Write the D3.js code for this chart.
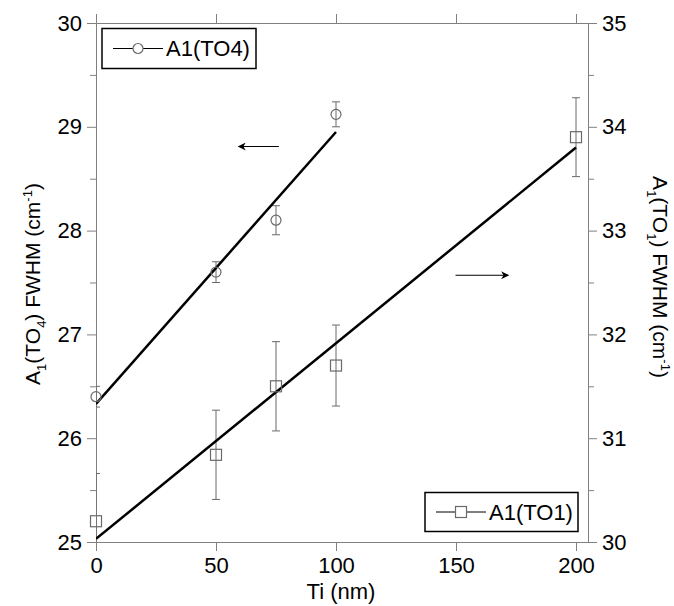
<!DOCTYPE html>
<html>
<head>
<meta charset="utf-8">
<script src="https://cdn.jsdelivr.net/npm/d3@7"></script>
<style>
  body { margin: 0; background: #fff; }
  svg text { font-family: Arial, "Liberation Sans", sans-serif; }
</style>
</head>
<body>
<div id="chart"></div>
<script>
// data
const tiTO4 = [0, 50, 75, 100];
const fwhmTO4 = [26.40, 27.60, 28.10, 29.12];
const errTO4 = [0.10, 0.10, 0.14, 0.12];
const fitTO4 = [[0, 26.33], [100, 28.95]];

const tiTO1 = [0, 50, 75, 100, 200];
const fwhmTO1 = [30.20, 30.84, 31.50, 31.70, 33.90];
const errTO1 = [0.46, 0.43, 0.43, 0.39, 0.38];
const fitTO1 = [[0, 30.03], [200, 33.80]];

const xTicks = [0, 50, 100, 150, 200];
const leftTicks = [25, 26, 27, 28, 29, 30];
const rightTicks = [30, 31, 32, 33, 34, 35];

const W = 674, H = 606;
const m = { left: 96, right: 86, top: 23, bottom: 64 };
const FS = '22px';

const svg = d3.select('#chart')
    .append('svg')
    .attr('width', W)
    .attr('height', H);

const x = d3.scaleLinear().domain([0, 205]).range([m.left, W - m.right]);
const yL = d3.scaleLinear().domain([25, 30]).range([H - m.bottom, m.top]);
const yR = d3.scaleLinear().domain([30, 35]).range([H - m.bottom, m.top]);

const AXIS = '#808080';
const MARK = '#6a6a6a';
const fmt = d3.format('d');

// clip for data
svg.append('clipPath').attr('id', 'clip')
    .append('rect')
    .attr('x', m.left).attr('y', m.top)
    .attr('width', W - m.left - m.right)
    .attr('height', H - m.top - m.bottom);

function styleAxis(g) {
    g.attr('font-family', null).attr('font-size', null);
    g.select('.domain').attr('stroke', AXIS);
    g.selectAll('.tick line').attr('stroke', AXIS);
    g.selectAll('.tick text').attr('fill', '#000').style('font-size', FS);
}

// bottom
svg.append('g')
    .attr('transform', `translate(0,${H - m.bottom})`)
    .call(d3.axisBottom(x).tickValues(xTicks).tickFormat(fmt).tickSize(9).tickPadding(6).tickSizeOuter(0))
    .call(styleAxis);
// top
svg.append('g')
    .attr('transform', `translate(0,${m.top})`)
    .call(d3.axisTop(x).tickValues(xTicks).tickSize(9).tickFormat('').tickSizeOuter(0))
    .call(styleAxis);

// minor ticks (half units)
const minorL = [25.5, 26.5, 27.5, 28.5, 29.5];
const minorR = [30.5, 31.5, 32.5, 33.5, 34.5];

svg.append('g')
    .attr('transform', `translate(${m.left},0)`)
    .call(d3.axisLeft(yL).tickValues(minorL).tickSize(6).tickFormat('').tickSizeOuter(0))
    .call(styleAxis);
svg.append('g')
    .attr('transform', `translate(${m.left},0)`)
    .call(d3.axisLeft(yL).tickValues(leftTicks).tickFormat(fmt).tickSize(9).tickPadding(5).tickSizeOuter(0))
    .call(styleAxis);

svg.append('g')
    .attr('transform', `translate(${W - m.right},0)`)
    .call(d3.axisRight(yR).tickValues(minorR).tickSize(6).tickFormat('').tickSizeOuter(0))
    .call(styleAxis);
svg.append('g')
    .attr('transform', `translate(${W - m.right},0)`)
    .call(d3.axisRight(yR).tickValues(rightTicks).tickFormat(fmt).tickSize(9).tickPadding(5).tickSizeOuter(0))
    .call(styleAxis);

const plot = svg.append('g').attr('clip-path', 'url(#clip)');

// error bars
function errorBars(xs, ys, es, yScale) {
    const g = plot.append('g').attr('stroke', MARK).attr('stroke-width', 1);
    xs.forEach((xv, i) => {
        const lo = yScale(ys[i] - es[i]);
        const hi = yScale(ys[i] + es[i]);
        const cx = x(xv);
        g.append('line').attr('x1', cx).attr('x2', cx).attr('y1', lo).attr('y2', hi);
        g.append('line').attr('x1', cx - 4).attr('x2', cx + 4).attr('y1', lo).attr('y2', lo);
        g.append('line').attr('x1', cx - 4).attr('x2', cx + 4).attr('y1', hi).attr('y2', hi);
    });
}
errorBars(tiTO4, fwhmTO4, errTO4, yL);
errorBars(tiTO1, fwhmTO1, errTO1, yR);

// fit lines
plot.append('path')
    .attr('d', d3.line().x(d => x(d[0])).y(d => yL(d[1]))(fitTO4))
    .attr('stroke', '#000').attr('stroke-width', 2.5).attr('fill', 'none');
plot.append('path')
    .attr('d', d3.line().x(d => x(d[0])).y(d => yR(d[1]))(fitTO1))
    .attr('stroke', '#000').attr('stroke-width', 2.5).attr('fill', 'none');

// markers
svg.append('g').selectAll('circle')
    .data(tiTO4.map((t, i) => [t, fwhmTO4[i]]))
    .enter().append('circle')
    .attr('cx', d => x(d[0])).attr('cy', d => yL(d[1]))
    .attr('r', 5).attr('fill', 'none').attr('stroke', MARK).attr('stroke-width', 1.2);

svg.append('g').selectAll('rect')
    .data(tiTO1.map((t, i) => [t, fwhmTO1[i]]))
    .enter().append('rect')
    .attr('x', d => x(d[0]) - 5.5).attr('y', d => yR(d[1]) - 5.5)
    .attr('width', 11).attr('height', 11)
    .attr('fill', 'none').attr('stroke', MARK).attr('stroke-width', 1.2);

// arrows
const defs = svg.append('defs');
defs.append('marker')
    .attr('id', 'head')
    .attr('viewBox', '0 0 10 10')
    .attr('refX', 9).attr('refY', 5)
    .attr('markerWidth', 14).attr('markerHeight', 8)
    .attr('markerUnits', 'userSpaceOnUse')
    .attr('orient', 'auto')
    .append('path')
    .attr('d', 'M0,0 L10,5 L0,10 L3,5 Z')
    .attr('fill', '#000');

svg.append('line')
    .attr('x1', x(76.2)).attr('x2', x(59.4))
    .attr('y1', yL(28.81)).attr('y2', yL(28.81))
    .attr('stroke', '#000').attr('stroke-width', 1.2)
    .attr('marker-end', 'url(#head)');
svg.append('line')
    .attr('x1', x(149.8)).attr('x2', x(171.8))
    .attr('y1', yR(32.57)).attr('y2', yR(32.57))
    .attr('stroke', '#000').attr('stroke-width', 1.2)
    .attr('marker-end', 'url(#head)');

// legends
function legend(x0, y0, w, h, label, kind) {
    const g = svg.append('g').attr('transform', `translate(${x0},${y0})`);
    g.append('rect').attr('width', w).attr('height', h)
        .attr('fill', '#fff').attr('stroke', '#000').attr('stroke-width', 1.5);
    const cy = h / 2;
    g.append('line').attr('x1', 11).attr('x2', 61).attr('y1', cy).attr('y2', cy)
        .attr('stroke', '#000').attr('stroke-width', 1);
    if (kind === 'circle') {
        g.append('circle').attr('cx', 36).attr('cy', cy).attr('r', 5)
            .attr('fill', '#fff').attr('stroke', MARK).attr('stroke-width', 1.2);
    } else {
        g.append('rect').attr('x', 36 - 5.5).attr('y', cy - 5.5).attr('width', 11).attr('height', 11)
            .attr('fill', '#fff').attr('stroke', MARK).attr('stroke-width', 1.2);
    }
    g.append('text').attr('x', 64).attr('y', cy).attr('dy', '0.36em')
        .style('font-size', FS).text(label);
}
legend(102, 28.5, 154, 40, 'A1(TO4)', 'circle');
legend(425, 492.5, 153, 39, 'A1(TO1)', 'square');

// axis titles
svg.append('text')
    .attr('x', 341).attr('y', 599)
    .attr('text-anchor', 'middle')
    .style('font-size', FS)
    .text('Ti (nm)');

function yTitle(tx, ty, rot, sub) {
    const t = svg.append('text')
        .attr('transform', `translate(${tx},${ty}) rotate(${rot})`)
        .attr('text-anchor', 'middle')
        .style('font-size', '21px');
    t.append('tspan').text('A');
    t.append('tspan').attr('dy', 6).style('font-size', '13px').text('1');
    t.append('tspan').attr('dy', -6).text('(TO');
    t.append('tspan').attr('dy', 6).style('font-size', '13px').text(sub);
    t.append('tspan').attr('dy', -6).text(')  FWHM (cm');
    t.append('tspan').attr('dy', -8).style('font-size', '13px').text('-1');
    t.append('tspan').attr('dy', 8).text(')');
}
yTitle(40, 284, -90, '4');
yTitle(653, 277, 90, '1');
</script>
</body>
</html>
